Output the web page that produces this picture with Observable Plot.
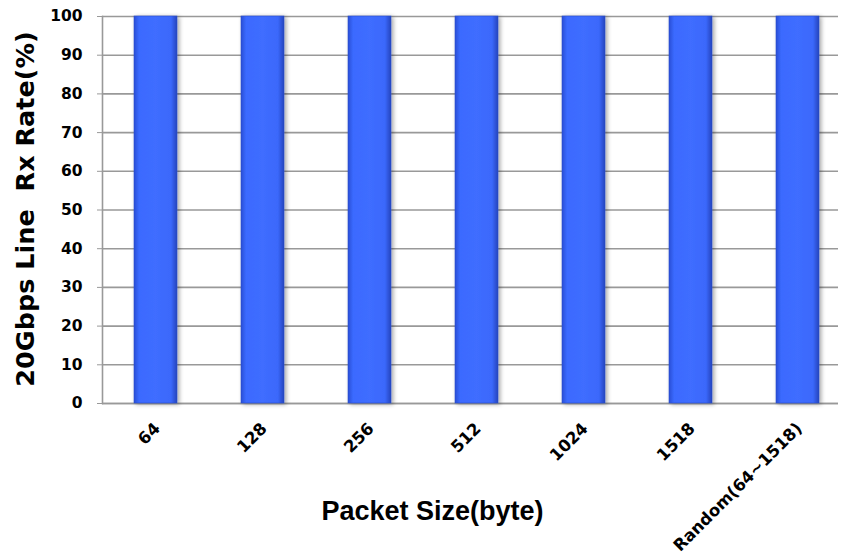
<!DOCTYPE html>
<html>
<head>
<meta charset="utf-8">
<script src="https://cdn.jsdelivr.net/npm/d3@7"></script>
<script src="https://cdn.jsdelivr.net/npm/@observablehq/plot@0.6"></script>
<style>
  html, body { margin: 0; padding: 0; background: #fff; }
  svg text { white-space: pre; }
</style>
</head>
<body>
<div id="chart"></div>
<script>
const categories = ["64", "128", "256", "512", "1024", "1518", "Random(64~1518)"];
const rxRate = [100, 100, 100, 100, 100, 100, 100];
const yTicks = [0, 10, 20, 30, 40, 50, 60, 70, 80, 90, 100];
const yTitle = "20Gbps Line  Rx Rate(%)";
const xTitle = "Packet Size(byte)";

const data = categories.map((c, i) => ({ size: c, rate: rxRate[i] }));
const wide = "'DejaVu Sans', sans-serif";
const arial = "Arial, 'Liberation Sans', sans-serif";

const chart = Plot.plot({
  width: 844,
  height: 559,
  marginLeft: 102,
  marginRight: 6,
  marginTop: 16,
  marginBottom: 156,
  style: { fontFamily: wide, background: "#fff" },
  x: { domain: categories, range: [101, 851], paddingInner: 0.6, paddingOuter: 0.3, axis: null },
  y: { domain: [0, 100], axis: null },
  marks: [
    Plot.gridY(yTicks, { stroke: "#999", strokeOpacity: 1, strokeWidth: 1.6 }),
    Plot.frame({ anchor: "left", stroke: "#999", strokeWidth: 1.6 }),
    Plot.ruleY([0], { stroke: "#999", strokeWidth: 1.6 }),
    Plot.barY(data, { x: "size", y: "rate", fill: "url(#barGrad)", stroke: "#2b4fc8", strokeWidth: 0.6 }),
    Plot.axisY(yTicks, {
      anchor: "left", tickSize: 5, tickPadding: 15, stroke: "#999",
      fontSize: 15.5, fontWeight: "bold", fill: "#000", label: null,
      fontFamily: wide
    }),
    Plot.text(categories, {
      x: (d) => d, frameAnchor: "bottom", dx: 5, dy: 26,
      rotate: -45, textAnchor: "end", lineAnchor: "bottom",
      fontSize: 16.5, fontWeight: "bold", fill: "#000", fontFamily: wide
    }),
    Plot.text([yTitle], {
      frameAnchor: "left", rotate: -90, dx: -77, dy: -1,
      textAnchor: "middle", lineAnchor: "middle",
      fontSize: 25.5, fontWeight: "bold", fill: "#000", fontFamily: wide
    }),
    Plot.text([xTitle], {
      frameAnchor: "bottom", dx: -38, dy: 116,
      textAnchor: "middle", lineAnchor: "bottom",
      fontSize: 27, fontWeight: "bold", fill: "#000", fontFamily: arial
    })
  ]
});

// gradient + shadow definitions
const svg = d3.select(chart);
const defs = svg.insert("defs", ":first-child");
const g = defs.append("linearGradient").attr("id", "barGrad")
  .attr("x1", 0).attr("x2", 1).attr("y1", 0).attr("y2", 0);
[[0, "#2a4fd6"], [0.12, "#3b6aff"], [0.5, "#3f6dff"], [0.86, "#3b68fb"], [1, "#2444bd"]]
  .forEach(([o, c]) => g.append("stop").attr("offset", o).attr("stop-color", c));
const f = defs.append("filter").attr("id", "barShadow")
  .attr("x", "-30%").attr("y", "-5%").attr("width", "160%").attr("height", "110%");
f.append("feDropShadow").attr("dx", 2).attr("dy", 1).attr("stdDeviation", 2)
  .attr("flood-color", "#000").attr("flood-opacity", 0.35);
svg.selectAll("rect").filter(function () {
  return this.getAttribute("fill") === "url(#barGrad)" || (this.parentNode && this.parentNode.getAttribute("fill") === "url(#barGrad)");
}).attr("filter", "url(#barShadow)");

document.getElementById("chart").append(chart);
</script>
</body>
</html>
